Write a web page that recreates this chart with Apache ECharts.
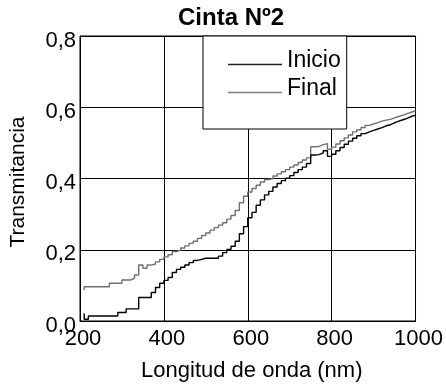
<!DOCTYPE html>
<html>
<head>
<meta charset="utf-8">
<script src="https://cdn.jsdelivr.net/npm/echarts@6/dist/echarts.min.js"></script>
<style>
  html, body { margin: 0; padding: 0; background: #fff; }
  #chart { width: 446px; height: 389px; }
</style>
</head>
<body>
<div id="chart"></div>
<script>
// longitud de onda (nm)
var wavelengths = [210, 220, 230, 240, 250, 260, 270, 280, 290, 300,
  310, 320, 330, 340, 350, 360, 370, 380, 390, 400,
  410, 420, 430, 440, 450, 460, 470, 480, 490, 500,
  510, 520, 530, 540, 550, 560, 570, 580, 590, 600,
  610, 620, 630, 640, 650, 660, 670, 680, 690, 700,
  710, 720, 730, 740, 750, 760, 770, 780, 790, 800,
  810, 820, 830, 840, 850, 860, 870, 880, 890, 900,
  910, 920, 930, 940, 950, 960, 970, 980, 990, 1000];

var inicio = [0.022, 0.005, 0.014, 0.014, 0.014, 0.014, 0.014, 0.014, 0.014, 0.024,
  0.024, 0.034, 0.034, 0.034, 0.066, 0.066, 0.066, 0.080, 0.094, 0.106,
  0.114, 0.122, 0.136, 0.145, 0.151, 0.157, 0.164, 0.170, 0.173, 0.176,
  0.176, 0.176, 0.176, 0.182, 0.192, 0.201, 0.210, 0.224, 0.245, 0.265,
  0.290, 0.305, 0.325, 0.340, 0.354, 0.364, 0.376, 0.386, 0.394, 0.401,
  0.408, 0.417, 0.425, 0.432, 0.442, 0.466, 0.467, 0.472, 0.478, 0.462,
  0.468, 0.478, 0.487, 0.496, 0.505, 0.513, 0.520, 0.526, 0.531, 0.535,
  0.539, 0.543, 0.548, 0.551, 0.556, 0.561, 0.565, 0.569, 0.574, 0.578];

var final = [0.087, 0.096, 0.096, 0.096, 0.096, 0.096, 0.096, 0.106, 0.106, 0.106,
  0.115, 0.115, 0.120, 0.129, 0.157, 0.148, 0.157, 0.160, 0.166, 0.173,
  0.180, 0.186, 0.195, 0.199, 0.205, 0.211, 0.218, 0.224, 0.232, 0.240,
  0.247, 0.255, 0.262, 0.269, 0.276, 0.286, 0.296, 0.310, 0.332, 0.350,
  0.362, 0.372, 0.381, 0.390, 0.397, 0.400, 0.407, 0.413, 0.419, 0.425,
  0.432, 0.438, 0.445, 0.452, 0.458, 0.489, 0.490, 0.495, 0.498, 0.482,
  0.488, 0.497, 0.506, 0.514, 0.522, 0.531, 0.537, 0.543, 0.549, 0.553,
  0.557, 0.561, 0.564, 0.566, 0.570, 0.574, 0.578, 0.582, 0.586, 0.590];

var yTicks = [0, 0.2, 0.4, 0.6, 0.8];

function pairs(xs, ys) {
  var res = [];
  for (var i = 0; i < xs.length; i++) res.push([xs[i], ys[i]]);
  return res;
}

var font = 'Liberation Sans, Arial, sans-serif';
// legend line drawn low in its box so it sits near the text baseline
var legendLine = 'path://M0,0L54,0L54,0.01L0,0.01Z M0,8L54,8L54,9.5L0,9.5Z';

var chart = echarts.init(document.getElementById('chart'));

var option = {
  backgroundColor: '#ffffff',
  animation: false,
  title: {
    text: 'Cinta Nº2',
    left: 178,
    top: 6,
    padding: 0,
    textStyle: { fontFamily: font, fontSize: 24, fontWeight: 'bold', color: '#000' }
  },
  legend: {
    orient: 'vertical',
    left: 203,
    top: 36,
    data: ['Inicio', 'Final'],
    icon: legendLine,
    itemWidth: 54,
    itemHeight: 9.5,
    itemGap: 5,
    borderColor: '#000',
    borderWidth: 1,
    borderRadius: 0,
    backgroundColor: '#fff',
    padding: [13, 6, 29, 25],
    textStyle: { fontFamily: font, fontSize: 23, color: '#000' }
  },
  grid: {
    left: 80, right: 28, top: 36, bottom: 68,
    show: true,
    borderColor: '#000',
    borderWidth: 1
  },
  graphic: [{
    type: 'text',
    x: 18,
    y: 182,
    rotation: Math.PI / 2,
    style: {
      text: 'Transmitancia',
      fontFamily: font,
      fontSize: 21,
      fill: '#000',
      align: 'center',
      verticalAlign: 'middle'
    }
  }],
  xAxis: {
    type: 'value',
    min: 200, max: 1000, interval: 200,
    name: 'Longitud de onda (nm)',
    nameLocation: 'middle',
    nameGap: 39,
    nameTextStyle: { fontFamily: font, fontSize: 22, color: '#000', padding: [0, 0, 0, 8] },
    axisLine: { lineStyle: { color: '#000', width: 1 } },
    axisTick: { show: false },
    axisLabel: {
      fontFamily: font, fontSize: 22, color: '#000', margin: 7, padding: [0, 0, 0, 6],
      formatter: function (v) { return String(v); }
    },
    splitLine: { show: true, lineStyle: { color: '#000', width: 1 } }
  },
  yAxis: {
    type: 'value',
    min: 0, max: 0.8, interval: 0.2,
    axisLine: { lineStyle: { color: '#000', width: 1 } },
    axisTick: { show: false },
    axisLabel: {
      fontFamily: font, fontSize: 22, color: '#000', margin: 4,
      verticalAlign: 'top',
      lineHeight: 9,
      formatter: function (v) {
        for (var i = 0; i < yTicks.length; i++) {
          if (Math.abs(v - yTicks[i]) < 1e-6) return yTicks[i].toFixed(1).replace('.', ',');
        }
        return '';
      }
    },
    splitLine: { show: true, lineStyle: { color: '#000', width: 1 } }
  },
  series: [
    {
      name: 'Inicio',
      type: 'line',
      step: 'start',
      symbol: 'none',
      data: pairs(wavelengths, inicio),
      lineStyle: { color: '#000', width: 1.4 },
      itemStyle: { color: '#222' },
      z: 3
    },
    {
      name: 'Final',
      type: 'line',
      step: 'start',
      symbol: 'none',
      data: pairs(wavelengths, final),
      lineStyle: { color: '#707070', width: 1.4 },
      itemStyle: { color: '#808080' },
      z: 2
    }
  ]
};

chart.setOption(option);
</script>
</body>
</html>
